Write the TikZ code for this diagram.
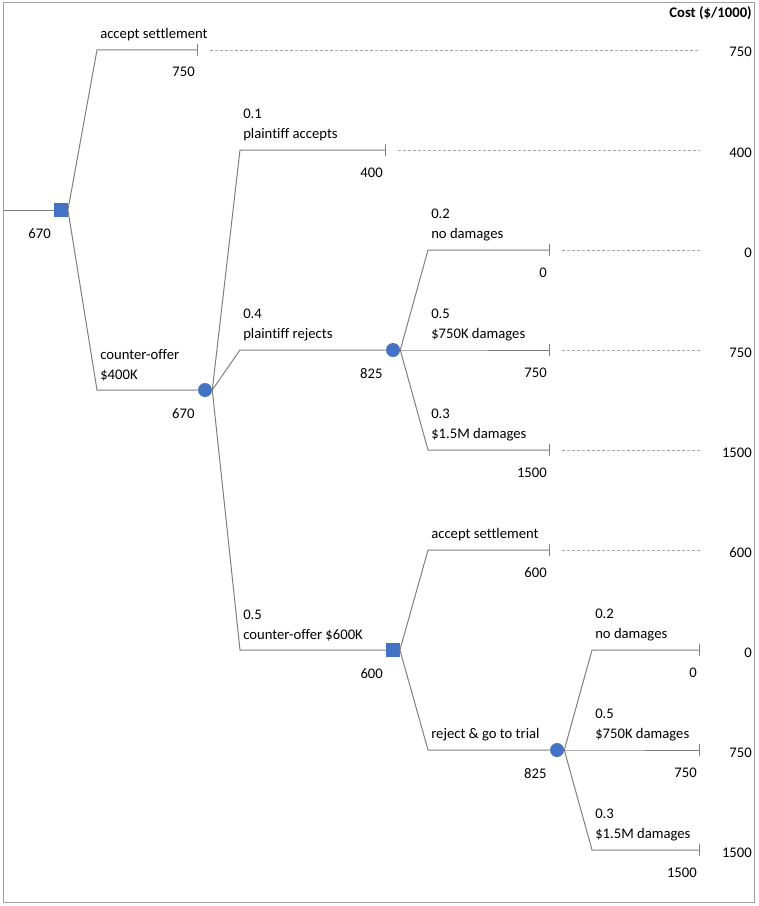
\documentclass[tikz,border=0pt]{standalone}
\usepackage{fontspec}
\setmainfont{Carlito}[Ligatures=NoCommon]
\usetikzlibrary{arrows.meta}
\definecolor{linegray}{HTML}{7F7F7F}
\definecolor{dashgray}{HTML}{A6A6A6}
\definecolor{framegray}{HTML}{A0A0A0}
\definecolor{nodeblue}{HTML}{4472C4}

\begin{document}
\begin{tikzpicture}[x=0.75pt,y=-0.75pt,
  font=\fontsize{11pt}{15pt}\selectfont,
  branch/.style={draw=linegray,line width=0.75pt},
  leafbranch/.style={branch,-{Bar[width=9pt,line width=0.75pt]}},
  guide/.style={draw=dashgray,line width=0.6pt,dash pattern=on 2.25pt off 1.5pt},
  decision/.style={rectangle,fill=nodeblue,minimum size=10pt,inner sep=0pt},
  chance/.style={circle,fill=nodeblue,minimum size=10.5pt,inner sep=0pt},
  lab/.style={anchor=south west,align=left,inner sep=0pt},
  val/.style={anchor=base east,inner sep=0pt},
  cost/.style={anchor=base east,inner sep=0pt,yshift=-5.25pt}]
  \useasboundingbox (0,0) rectangle (759,906);
  % The frame
  \draw[framegray,line width=0.75pt] (3,3) rectangle (754,902);
  \node[anchor=base east,inner sep=0pt,font=\fontsize{11pt}{15pt}\selectfont\bfseries] (head) at (752,18) {Cost (\$/1000)};

  % Decision and chance nodes
  \node[decision] (d1) at (61,210) {};
  \node[chance] (c1) at (205,390) {};
  \node[chance] (c2) at (393,350) {};
  \node[decision] (d2) at (393,650) {};
  \node[chance] (c3) at (557,750) {};

  % Knees and leaves
  \coordinate (root) at (3,210);
  \coordinate (edge) at (752,0);
  \coordinate (rim) at (700,0);
  \coordinate (k1) at (97,50);   \coordinate (t1) at (198,50);
  \coordinate (k2) at (97,390);
  \coordinate (k3) at (240,150); \coordinate (t2) at (386,150);
  \coordinate (k4) at (240,350);
  \coordinate (k5) at (240,650);
  \coordinate (k6) at (428,250); \coordinate (t3) at (550,250);
  \coordinate (k7) at (428,350); \coordinate (t4) at (550,350);
  \coordinate (k8) at (428,450); \coordinate (t5) at (550,450);
  \coordinate (k9) at (428,550); \coordinate (t6) at (550,550);
  \coordinate (k10) at (428,750);
  \coordinate (k11) at (592,650); \coordinate (t7) at (700,650);
  \coordinate (k12) at (592,750); \coordinate (t8) at (700,750);
  \coordinate (k13) at (592,850); \coordinate (t9) at (700,850);

  % The branches
  \draw[branch] (root) -- (d1.west);
  \draw[leafbranch] (d1.east) -- (k1) -- (t1);
  \draw[branch] (d1.east) -- (k2) -- (c1.west);
  \draw[leafbranch] (c1.east) -- (k3) -- (t2);
  \draw[branch] (c1.east) -- (k4) -- (c2.west);
  \draw[branch] (c1.east) -- (k5) -- (d2.west);
  \draw[leafbranch] (c2.east) -- (k6) -- (t3);
  \draw[leafbranch] (c2.east) -- (k7) -- (t4);
  \draw[leafbranch] (c2.east) -- (k8) -- (t5);
  \draw[leafbranch] (d2.east) -- (k9) -- (t6);
  \draw[branch] (d2.east) -- (k10) -- (c3.west);
  \draw[leafbranch] (c3.east) -- (k11) -- (t7);
  \draw[leafbranch] (c3.east) -- (k12) -- (t8);
  \draw[leafbranch] (c3.east) -- (k13) -- (t9);

  % Branch labels
  \node[lab] at ([shift={(3,-9)}]k1) {accept settlement};
  \node[lab] at ([shift={(3,-9)}]k2) {counter-offer\\\$400K};
  \node[lab] at ([shift={(3,-9)}]k3) {0.1\\plaintiff accepts};
  \node[lab] at ([shift={(3,-9)}]k4) {0.4\\plaintiff rejects};
  \node[lab] at ([shift={(3,-9)}]k5) {0.5\\counter-offer \$600K};
  \node[lab] at ([shift={(3,-9)}]k6) {0.2\\no damages};
  \node[lab] at ([shift={(3,-9)}]k7) {0.5\\\$750K damages};
  \node[lab] at ([shift={(3,-9)}]k8) {0.3\\\$1.5M damages};
  \node[lab] at ([shift={(3,-9)}]k9) {accept settlement};
  \node[lab] at ([shift={(3,-9)}]k10) {reject \& go to trial};
  \node[lab] at ([shift={(3,-9)}]k11) {0.2\\no damages};
  \node[lab] at ([shift={(3,-9)}]k12) {0.5\\\$750K damages};
  \node[lab] at ([shift={(3,-9)}]k13) {0.3\\\$1.5M damages};

  % Rolled-back values
  \node[val] at ([shift={(-3,28)}]d1.west) {670};
  \node[val] at ([shift={(-3,28)}]c1.west) {670};
  \node[val] at ([shift={(-3,28)}]c2.west) {825};
  \node[val] at ([shift={(-3,28)}]d2.west) {600};
  \node[val] at ([shift={(-3,28)}]c3.west) {825};
  \foreach \leaf/\cost in {t1/750,t2/400,t3/0,t4/750,t5/1500,t6/600,t7/0,t8/750,t9/1500}
    \node[val] at ([shift={(-3,27)}]\leaf) {\cost};

  % The cost column
  \foreach \leaf in {t1,t2,t3,t4,t5,t6}
    \draw[guide] ([xshift=9pt]\leaf) -- (\leaf -| rim);
  \foreach \leaf/\cost in {t1/750,t2/400,t3/0,t4/750,t5/1500,t6/600,t7/0,t8/750,t9/1500}
    \node[cost] (cost-\leaf) at (\leaf -| edge) {\cost};
\end{tikzpicture}
\end{document}
